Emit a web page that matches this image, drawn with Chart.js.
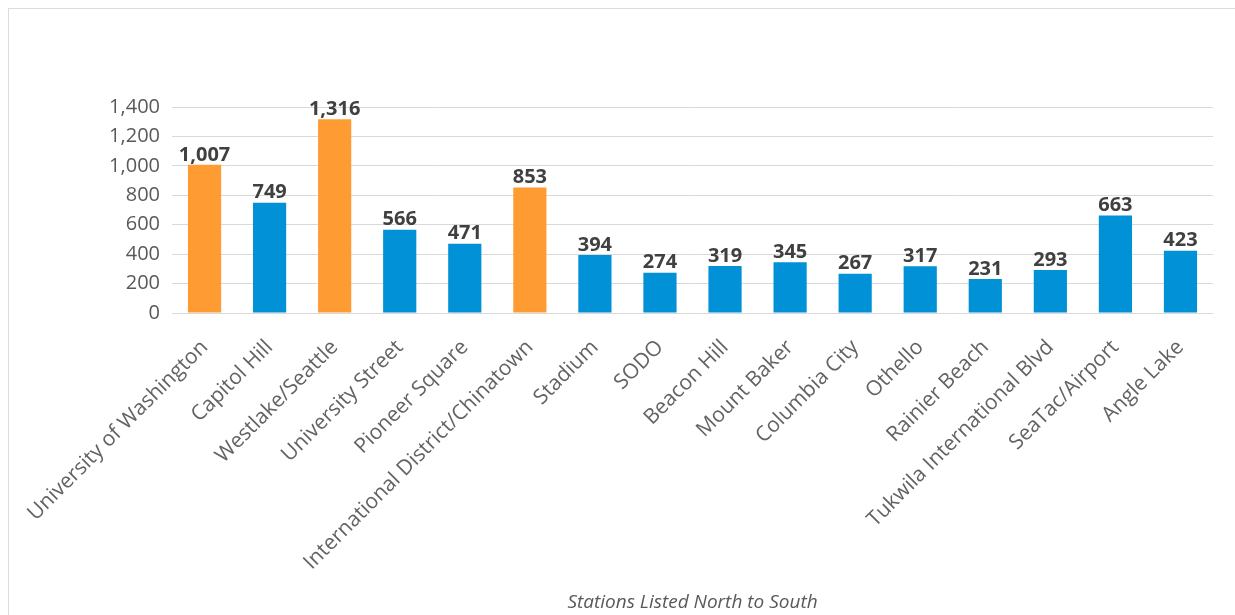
<!DOCTYPE html>
<html lang="en">
<head>
  <meta charset="UTF-8" />
  <title>Stations Listed North to South</title>
  <script src="https://cdn.jsdelivr.net/npm/chart.js"></script>
  <style>
    body {
      margin: 0;
      background: white;
      overflow: hidden;
    }
    .frame {
      position: absolute;
      left: 8px;
      top: 8px;
      width: 2000px;
      height: 2000px;
      border: 1px solid #dcdcdc;
    }
    .wrap {
      position: absolute;
      left: 0;
      top: 0;
      width: 1235px;
      height: 615px;
    }
  </style>
</head>
<body>
  <div class="frame"></div>
  <div class="wrap"><canvas id="stationChart"></canvas></div>

  <script>
    const stations = [
      "University of Washington", "Capitol Hill", "Westlake/Seattle", "University Street",
      "Pioneer Square", "International District/Chinatown", "Stadium", "SODO",
      "Beacon Hill", "Mount Baker", "Columbia City", "Othello", "Rainier Beach",
      "Tukwila International Blvd", "SeaTac/Airport", "Angle Lake"
    ];
    const riders = [1007, 749, 1316, 566, 471, 853, 394, 274, 319, 345, 267, 317, 231, 293, 663, 423];
    const highlighted = ["University of Washington", "Westlake/Seattle", "International District/Chinatown"];
    const yTicks = [0, 200, 400, 600, 800, 1000, 1200, 1400];

    const ORANGE = '#FF9B33';
    const BLUE = '#0191D7';
    const FONT = "'Open Sans', sans-serif";

    // value labels above each bar
    const barLabels = {
      id: 'barLabels',
      afterDatasetsDraw(chart) {
        const ctx = chart.ctx;
        const meta = chart.getDatasetMeta(0);
        ctx.save();
        ctx.font = "bold 20px " + FONT;
        ctx.fillStyle = '#404040';
        ctx.textAlign = 'center';
        ctx.textBaseline = 'bottom';
        meta.data.forEach((bar, i) => {
          ctx.fillText(riders[i].toLocaleString('en-US'), bar.x, bar.y);
        });
        ctx.restore();
      }
    };

    new Chart(document.getElementById("stationChart"), {
      type: 'bar',
      data: {
        labels: stations,
        datasets: [{
          data: riders,
          backgroundColor: stations.map(s => highlighted.includes(s) ? ORANGE : BLUE),
          categoryPercentage: 1,
          barPercentage: 0.51
        }]
      },
      options: {
        responsive: true,
        maintainAspectRatio: false,
        animation: false,
        layout: { padding: { top: 107, right: 22, left: 0, bottom: 0 } },
        plugins: {
          legend: { display: false },
          tooltip: { enabled: false }
        },
        scales: {
          x: {
            grid: { display: false, drawTicks: false },
            border: { display: false },
            ticks: {
              minRotation: 45,
              maxRotation: 45,
              autoSkip: false,
              padding: 22,
              color: '#636363',
              font: { family: FONT, size: 21 }
            },
            title: {
              display: true,
              text: 'Stations Listed North to South',
              color: '#595959',
              font: { family: FONT, size: 19, style: 'italic' },
              padding: { top: 0, bottom: 1 }
            },
            afterFit(scale) { scale.height = 302; }
          },
          y: {
            min: 0,
            max: 1400,
            afterBuildTicks(scale) { scale.ticks = yTicks.map(v => ({ value: v })); },
            grid: { color: '#d9d9d9', lineWidth: 1, drawTicks: false },
            border: { display: false },
            ticks: {
              padding: 12,
              color: '#595959',
              font: { family: FONT, size: 20 },
              callback: v => v.toLocaleString('en-US')
            },
            afterFit(scale) { scale.width = 172; }
          }
        }
      },
      plugins: [barLabels]
    });
  </script>
</body>
</html>
